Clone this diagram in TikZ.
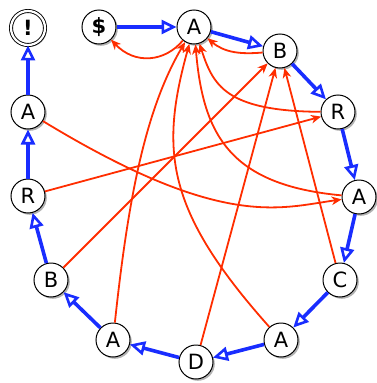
\documentclass[tikz,border=0pt]{standalone}
\usepackage{fontspec}
\setmainfont{DejaVu Sans}
\usetikzlibrary{arrows.meta,shadows}
\definecolor{blueC}{RGB}{25,45,255}
\definecolor{redC}{RGB}{255,45,0}
\begin{document}
\begin{tikzpicture}[x=1pt,y=1pt,
  st/.style={circle,draw=black,line width=1pt,fill=white,minimum size=34pt,inner sep=0pt,
    font=\fontsize{21}{21}\selectfont,
    drop shadow={shadow xshift=1.8pt,shadow yshift=-1.8pt,fill=black,opacity=0.3}},
  fin/.style={st,double=white,double distance=2.2pt,line width=0.9pt,font=\fontsize{21}{21}\selectfont\bfseries},
  tr/.style={draw=blueC,line width=3.6pt,-{Triangle[open,length=15pt,width=14pt,line width=2.6pt]}},
  sl/.style={draw=redC,line width=1.8pt,-{Stealth[length=10pt,width=8.5pt,inset=3pt]}}]
\useasboundingbox (0,0) rectangle (376,-383);
\node[st,font=\fontsize{21}{21}\selectfont\bfseries] (s) at (99,-27) {\$};
\node[st] (a1) at (194,-27) {A};
\node[st] (b2) at (280,-51) {B};
\node[st] (r3) at (338,-112) {R};
\node[st] (a4) at (359,-197) {A};
\node[st] (c5) at (340,-280) {C};
\node[st] (a6) at (281,-340) {A};
\node[st] (d7) at (196,-362) {D};
\node[st] (a8) at (113,-340) {A};
\node[st] (b9) at (51,-280) {B};
\node[st] (r10) at (28,-196) {R};
\node[st] (a11) at (28,-112) {A};
\node[fin] (e) at (28,-28) {!};
% blue chain
\draw[tr] (s) -- (a1);
\draw[tr] (a1) -- (b2);
\draw[tr] (b2) -- (r3);
\draw[tr] (r3) -- (a4);
\draw[tr] (a4) -- (c5);
\draw[tr] (c5) -- (a6);
\draw[tr] (a6) -- (d7);
\draw[tr] (d7) -- (a8);
\draw[tr] (a8) -- (b9);
\draw[tr] (b9) -- (r10);
\draw[tr] (r10) -- (a11);
\draw[tr] (a11) -- (e);
% red links
\draw[sl] (a1) .. controls (165,-62) and (135,-65) .. (s);
\draw[sl] (b2) to[out=185,in=-40] (a1);
\draw[sl] (r3) .. controls (225,-111) and (213,-85) .. (a1);
\draw[sl] (a4) .. controls (230,-185) and (203,-135) .. (a1);
\draw[sl] (c5) -- (b2);
\draw[sl] (a6) .. controls (165,-210) and (160,-150) .. (a1);
\draw[sl] (d7) -- (b2);
\draw[sl] (a8) .. controls (128,-200) and (145,-110) .. (a1);
\draw[sl] (b9) -- (b2);
\draw[sl] (r10) -- (r3);
\draw[sl] (a11) .. controls (222,-230) and (280,-208) .. (a4);
\end{tikzpicture}
\end{document}
